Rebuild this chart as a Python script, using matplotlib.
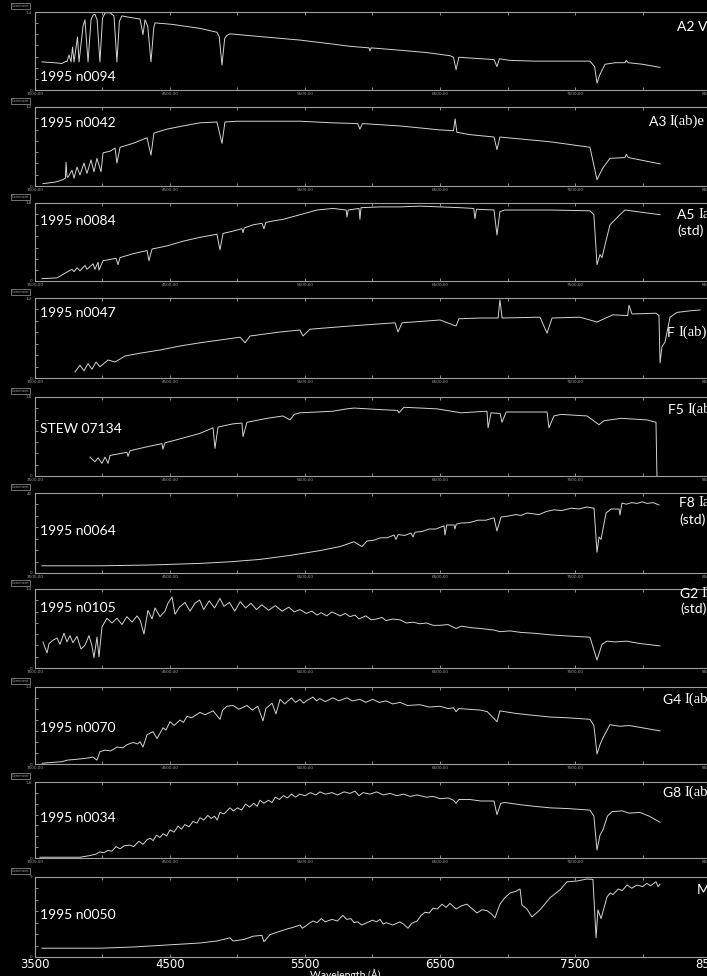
import numpy as np
import matplotlib.pyplot as plt
from matplotlib.ticker import FixedLocator, FuncFormatter

# spectra: (wavelength in Angstrom, flux as fraction of panel height)
a2v = [(3552, 0.36), (3640, 0.35), (3700, 0.34), (3730, 0.37), (3737, 0.36), (3752, 0.45), (3767, 0.36),
       (3778, 0.55), (3789, 0.36), (3815, 0.68), (3826, 0.36), (3856, 0.82), (3870, 0.90), (3893, 0.36),
       (3915, 0.90), (3930, 0.96), (3944, 0.97), (3960, 0.90), (3981, 0.36), (4000, 0.92), (4019, 0.99),
       (4056, 0.99), (4085, 0.95), (4107, 0.36), (4125, 0.88), (4144, 0.95), (4204, 0.93), (4278, 0.91),
       (4300, 0.71), (4315, 0.90), (4335, 0.82), (4359, 0.36), (4380, 0.80), (4389, 0.86), (4463, 0.85),
       (4522, 0.84), (4722, 0.79), (4848, 0.74), (4865, 0.68), (4885, 0.32), (4905, 0.66), (4922, 0.70),
       (4944, 0.72), (5200, 0.68), (5463, 0.64), (5700, 0.59), (5833, 0.56), (5975, 0.54), (5981, 0.50),
       (5990, 0.54), (6204, 0.51), (6400, 0.48), (6574, 0.44), (6600, 0.42), (6619, 0.26), (6640, 0.42),
       (6722, 0.41), (6900, 0.39), (6922, 0.30), (6940, 0.40), (7019, 0.38), (7200, 0.37), (7389, 0.37),
       (7611, 0.37), (7645, 0.30), (7663, 0.09), (7685, 0.20), (7722, 0.33), (7800, 0.35), (7870, 0.35),
       (7880, 0.38), (7895, 0.35), (8000, 0.33), (8130, 0.29)]

a3 = [(3559, 0.03), (3650, 0.05), (3707, 0.08), (3725, 0.10), (3730, 0.30), (3737, 0.12), (3744, 0.11),
      (3774, 0.20), (3789, 0.10), (3811, 0.24), (3833, 0.14), (3863, 0.29), (3885, 0.16), (3915, 0.33),
      (3937, 0.18), (3959, 0.35), (3989, 0.18), (4004, 0.42), (4056, 0.44), (4093, 0.48), (4107, 0.29),
      (4130, 0.49), (4226, 0.54), (4330, 0.61), (4359, 0.39), (4381, 0.67), (4478, 0.72), (4596, 0.76),
      (4722, 0.80), (4848, 0.81), (4885, 0.54), (4907, 0.81), (4996, 0.82), (5200, 0.82), (5463, 0.82),
      (5700, 0.80), (5890, 0.79), (5907, 0.72), (5925, 0.79), (6204, 0.76), (6500, 0.71), (6600, 0.70),
      (6612, 0.85), (6625, 0.68), (6722, 0.65), (6900, 0.62), (6922, 0.46), (6944, 0.62), (7315, 0.56),
      (7611, 0.49), (7663, 0.08), (7707, 0.23), (7759, 0.35), (7870, 0.36), (7880, 0.40), (7895, 0.36),
      (8130, 0.28)]

a5 = [(3552, 0.03), (3663, 0.04), (3722, 0.10), (3774, 0.15), (3789, 0.12), (3811, 0.17), (3833, 0.13),
      (3870, 0.20), (3885, 0.15), (3930, 0.22), (3944, 0.15), (3967, 0.24), (3974, 0.14), (4004, 0.26),
      (4100, 0.29), (4115, 0.21), (4130, 0.30), (4226, 0.35), (4330, 0.39), (4344, 0.26), (4367, 0.41),
      (4478, 0.45), (4596, 0.51), (4722, 0.56), (4848, 0.60), (4870, 0.40), (4893, 0.61), (4967, 0.64),
      (5033, 0.67), (5041, 0.62), (5050, 0.68), (5115, 0.72), (5181, 0.74), (5196, 0.67), (5210, 0.75),
      (5263, 0.77), (5337, 0.79), (5463, 0.85), (5589, 0.91), (5707, 0.93), (5805, 0.91), (5811, 0.82),
      (5820, 0.91), (5900, 0.93), (5907, 0.79), (5915, 0.94), (6056, 0.95), (6204, 0.95), (6352, 0.96),
      (6500, 0.95), (6648, 0.94), (6750, 0.93), (6759, 0.80), (6770, 0.92), (6900, 0.91), (6922, 0.59),
      (6944, 0.89), (6981, 0.91), (7315, 0.91), (7611, 0.90), (7640, 0.85), (7663, 0.21), (7685, 0.34),
      (7700, 0.30), (7722, 0.46), (7759, 0.72), (7833, 0.85), (7870, 0.91), (8000, 0.88), (8130, 0.85)]

f_iab = [(3796, 0.075), (3833, 0.16), (3863, 0.09), (3893, 0.18), (3922, 0.11), (3952, 0.20), (3981, 0.14),
         (4041, 0.225), (4093, 0.20), (4167, 0.275), (4278, 0.31), (4426, 0.35), (4574, 0.40), (4722, 0.44),
         (4870, 0.475), (5019, 0.51), (5056, 0.44), (5093, 0.525), (5315, 0.575), (5463, 0.60), (5485, 0.525),
         (5537, 0.61), (5833, 0.65), (6167, 0.69), (6189, 0.575), (6219, 0.69), (6500, 0.725), (6619, 0.65),
         (6640, 0.74), (6796, 0.75), (6930, 0.75), (6944, 0.975), (6960, 0.75), (7241, 0.76), (7293, 0.56),
         (7330, 0.75), (7537, 0.76), (7663, 0.70), (7781, 0.79), (7890, 0.78), (7900, 0.91), (7922, 0.80),
         (8100, 0.81), (8122, 0.78), (8130, 0.19), (8144, 0.39), (8167, 0.45), (8204, 0.76), (8256, 0.82),
         (8352, 0.84), (8426, 0.85)]

f5 = [(3907, 0.24), (3944, 0.18), (3967, 0.23), (3996, 0.16), (4019, 0.24), (4041, 0.16), (4056, 0.26),
      (4181, 0.30), (4189, 0.25), (4204, 0.32), (4330, 0.37), (4441, 0.41), (4448, 0.34), (4463, 0.42),
      (4596, 0.48), (4722, 0.54), (4819, 0.61), (4833, 0.35), (4856, 0.62), (4967, 0.66), (5033, 0.67),
      (5041, 0.50), (5070, 0.68), (5219, 0.73), (5337, 0.76), (5389, 0.71), (5420, 0.78), (5463, 0.80),
      (5589, 0.81), (5707, 0.82), (5811, 0.85), (5863, 0.86), (6063, 0.84), (6185, 0.83), (6196, 0.80),
      (6233, 0.87), (6478, 0.85), (6656, 0.80), (6848, 0.82), (6856, 0.61), (6878, 0.80), (6945, 0.79),
      (6959, 0.68), (6990, 0.81), (7293, 0.81), (7307, 0.61), (7344, 0.76), (7396, 0.78), (7589, 0.76),
      (7678, 0.65), (7715, 0.70), (7841, 0.73), (8033, 0.71), (8100, 0.68), (8107, 0.0)]

f8 = [(3552, 0.09), (3981, 0.09), (4352, 0.10), (4722, 0.12), (4944, 0.14), (5167, 0.17), (5389, 0.22),
      (5611, 0.28), (5759, 0.33), (5863, 0.39), (5922, 0.33), (5959, 0.40), (6010, 0.41), (6060, 0.44),
      (6110, 0.44), (6159, 0.475), (6174, 0.42), (6190, 0.48), (6240, 0.47), (6285, 0.50), (6300, 0.45),
      (6315, 0.51), (6370, 0.52), (6420, 0.55), (6470, 0.55), (6530, 0.59), (6537, 0.475), (6550, 0.60),
      (6604, 0.60), (6611, 0.55), (6620, 0.61), (6656, 0.625), (6720, 0.63), (6780, 0.66), (6840, 0.66),
      (6900, 0.69), (6922, 0.525), (6952, 0.70), (7000, 0.71), (7060, 0.73), (7100, 0.72), (7144, 0.75),
      (7190, 0.74), (7233, 0.73), (7290, 0.77), (7344, 0.79), (7400, 0.78), (7470, 0.81), (7530, 0.80),
      (7589, 0.825), (7641, 0.81), (7663, 0.26), (7678, 0.45), (7693, 0.42), (7730, 0.75), (7767, 0.80),
      (7826, 0.80), (7833, 0.725), (7848, 0.875), (7880, 0.86), (7920, 0.88), (7959, 0.87), (8000, 0.89),
      (8033, 0.87), (8080, 0.88), (8122, 0.85)]

g2 = [(3559, 0.33), (3589, 0.19), (3604, 0.31), (3633, 0.35), (3663, 0.38), (3685, 0.30), (3715, 0.44),
      (3737, 0.33), (3759, 0.41), (3781, 0.32), (3811, 0.40), (3841, 0.24), (3870, 0.29), (3900, 0.41),
      (3922, 0.28), (3937, 0.13), (3959, 0.39), (3974, 0.14), (3996, 0.52), (4033, 0.63), (4070, 0.57),
      (4107, 0.63), (4144, 0.55), (4181, 0.65), (4219, 0.58), (4256, 0.66), (4280, 0.60), (4307, 0.43),
      (4337, 0.73), (4367, 0.62), (4389, 0.76), (4426, 0.65), (4463, 0.72), (4485, 0.82), (4515, 0.90),
      (4537, 0.68), (4570, 0.77), (4611, 0.83), (4648, 0.72), (4685, 0.82), (4720, 0.86), (4750, 0.74),
      (4790, 0.85), (4830, 0.76), (4870, 0.88), (4900, 0.78), (4940, 0.83), (4980, 0.72), (5020, 0.84),
      (5060, 0.76), (5100, 0.82), (5140, 0.74), (5180, 0.80), (5230, 0.73), (5280, 0.79), (5330, 0.72),
      (5380, 0.77), (5420, 0.71), (5463, 0.74), (5510, 0.69), (5550, 0.72), (5590, 0.67), (5620, 0.70),
      (5660, 0.66), (5700, 0.71), (5760, 0.66), (5800, 0.69), (5833, 0.65), (5870, 0.67), (5900, 0.62),
      (5950, 0.66), (5990, 0.61), (6030, 0.62), (6070, 0.64), (6100, 0.60), (6150, 0.62), (6204, 0.61),
      (6250, 0.57), (6300, 0.58), (6350, 0.56), (6400, 0.57), (6450, 0.54), (6500, 0.54), (6560, 0.55),
      (6619, 0.50), (6660, 0.53), (6730, 0.51), (6800, 0.50), (6900, 0.48), (6944, 0.46), (7020, 0.47),
      (7100, 0.45), (7200, 0.44), (7315, 0.42), (7400, 0.41), (7500, 0.40), (7611, 0.39), (7663, 0.10),
      (7700, 0.30), (7737, 0.34), (7796, 0.33), (7880, 0.34), (7980, 0.31), (8130, 0.28)]

g4 = [(3552, 0.01), (3700, 0.03), (3737, 0.05), (3800, 0.06), (3856, 0.07), (3900, 0.08), (3930, 0.09),
      (3959, 0.05), (3981, 0.16), (4019, 0.18), (4060, 0.17), (4107, 0.22), (4150, 0.21), (4181, 0.25),
      (4226, 0.28), (4260, 0.26), (4278, 0.29), (4300, 0.22), (4330, 0.38), (4374, 0.42), (4404, 0.33),
      (4448, 0.47), (4470, 0.44), (4500, 0.55), (4530, 0.50), (4574, 0.57), (4600, 0.54), (4626, 0.62),
      (4660, 0.60), (4722, 0.67), (4760, 0.64), (4819, 0.69), (4870, 0.58), (4890, 0.70), (4922, 0.75),
      (4967, 0.76), (5010, 0.71), (5070, 0.76), (5110, 0.70), (5150, 0.75), (5189, 0.56), (5210, 0.72),
      (5256, 0.79), (5285, 0.65), (5315, 0.84), (5350, 0.78), (5400, 0.86), (5430, 0.80), (5463, 0.84),
      (5490, 0.79), (5510, 0.82), (5559, 0.87), (5585, 0.82), (5610, 0.85), (5650, 0.81), (5707, 0.86),
      (5750, 0.82), (5811, 0.86), (5850, 0.82), (5907, 0.84), (5950, 0.80), (6000, 0.84), (6050, 0.80),
      (6100, 0.82), (6150, 0.78), (6204, 0.80), (6260, 0.76), (6350, 0.77), (6420, 0.74), (6500, 0.75),
      (6560, 0.72), (6600, 0.73), (6619, 0.68), (6640, 0.72), (6720, 0.71), (6800, 0.70), (6850, 0.68),
      (6922, 0.55), (6944, 0.69), (7050, 0.66), (7150, 0.64), (7315, 0.61), (7450, 0.60), (7611, 0.58),
      (7640, 0.50), (7663, 0.13), (7685, 0.25), (7707, 0.34), (7759, 0.51), (7833, 0.49), (7900, 0.50),
      (8000, 0.47), (8130, 0.43)]

g8 = [(3537, 0.01), (3833, 0.01), (3900, 0.03), (3950, 0.05), (3981, 0.08), (4010, 0.07), (4040, 0.10),
      (4070, 0.09), (4100, 0.15), (4130, 0.12), (4160, 0.16), (4204, 0.17), (4230, 0.15), (4270, 0.22),
      (4300, 0.18), (4330, 0.24), (4352, 0.26), (4375, 0.23), (4400, 0.30), (4425, 0.27), (4450, 0.32),
      (4475, 0.29), (4500, 0.37), (4530, 0.34), (4560, 0.42), (4585, 0.38), (4610, 0.44), (4640, 0.41),
      (4670, 0.48), (4700, 0.46), (4722, 0.53), (4750, 0.50), (4780, 0.56), (4805, 0.52), (4830, 0.55),
      (4850, 0.50), (4870, 0.60), (4900, 0.58), (4944, 0.66), (4970, 0.62), (5000, 0.66), (5030, 0.63),
      (5060, 0.71), (5090, 0.67), (5120, 0.72), (5145, 0.68), (5167, 0.76), (5195, 0.72), (5230, 0.76),
      (5255, 0.73), (5280, 0.80), (5310, 0.77), (5340, 0.82), (5370, 0.79), (5400, 0.84), (5430, 0.80),
      (5460, 0.84), (5500, 0.82), (5540, 0.86), (5580, 0.83), (5611, 0.87), (5650, 0.84), (5700, 0.86),
      (5740, 0.83), (5790, 0.87), (5833, 0.85), (5870, 0.88), (5900, 0.82), (5930, 0.86), (5980, 0.84),
      (6030, 0.87), (6080, 0.83), (6130, 0.85), (6180, 0.82), (6230, 0.84), (6280, 0.81), (6330, 0.83),
      (6400, 0.80), (6450, 0.81), (6500, 0.78), (6560, 0.79), (6600, 0.76), (6619, 0.72), (6640, 0.77),
      (6722, 0.77), (6800, 0.75), (6900, 0.75), (6922, 0.57), (6950, 0.72), (6981, 0.73), (7100, 0.70),
      (7200, 0.68), (7315, 0.66), (7450, 0.65), (7611, 0.63), (7640, 0.55), (7663, 0.105), (7685, 0.30),
      (7707, 0.37), (7740, 0.55), (7774, 0.61), (7850, 0.62), (7900, 0.59), (7981, 0.60), (8050, 0.55),
      (8130, 0.47)]

m_star = [(3552, 0.11), (3981, 0.11), (4226, 0.125), (4478, 0.15), (4722, 0.175), (4848, 0.20), (4944, 0.24),
          (4967, 0.20), (5050, 0.22), (5115, 0.26), (5181, 0.27), (5196, 0.19), (5241, 0.28), (5293, 0.31),
          (5367, 0.35), (5411, 0.37), (5463, 0.40), (5480, 0.36), (5500, 0.38), (5530, 0.42), (5560, 0.45),
          (5590, 0.43), (5620, 0.48), (5650, 0.44), (5700, 0.47), (5740, 0.45), (5780, 0.52), (5810, 0.47),
          (5840, 0.48), (5863, 0.43), (5890, 0.44), (5920, 0.40), (5960, 0.43), (6000, 0.46), (6030, 0.44),
          (6056, 0.47), (6080, 0.41), (6100, 0.43), (6150, 0.40), (6204, 0.44), (6230, 0.41), (6263, 0.36),
          (6290, 0.42), (6330, 0.45), (6360, 0.52), (6389, 0.56), (6420, 0.55), (6448, 0.61), (6480, 0.60),
          (6515, 0.66), (6545, 0.62), (6574, 0.67), (6600, 0.63), (6620, 0.60), (6660, 0.64), (6700, 0.66),
          (6740, 0.60), (6774, 0.55), (6810, 0.59), (6848, 0.58), (6880, 0.54), (6907, 0.49), (6944, 0.66),
          (6980, 0.74), (7019, 0.80), (7060, 0.82), (7093, 0.85), (7107, 0.65), (7144, 0.60), (7181, 0.50),
          (7241, 0.59), (7315, 0.74), (7389, 0.84), (7441, 0.94), (7515, 0.95), (7589, 0.975), (7633, 0.97),
          (7656, 0.24), (7670, 0.59), (7693, 0.48), (7737, 0.75), (7760, 0.80), (7781, 0.78), (7820, 0.85),
          (7850, 0.83), (7885, 0.90), (7920, 0.86), (7960, 0.90), (8000, 0.88), (8033, 0.92), (8060, 0.89),
          (8100, 0.94), (8115, 0.88), (8130, 0.91)]

spectra = [a2v, a3, a5, f_iab, f5, f8, g2, g4, g8, m_star]
star_ids = ["1995 n0094", "1995 n0042", "1995 n0084", "1995 n0047", "STEW 07134",
            "1995 n0064", "1995 n0105", "1995 n0070", "1995 n0034", "1995 n0050"]
# spectral type: (sans part, serif part)
sp_class = [("A2 V", ""), ("A3 ", "I(ab)e"), ("A5 ", "Ia"), ("F ", "I(ab)"), ("F5 ", "I(ab)"),
            ("F8 ", "Ia"), ("G2 ", "Ib"), ("G4 ", "I(ab)"), ("G8 ", "I(ab)"), ("M", "")]
is_std = [False, False, True, False, False, True, True, False, False, False]
y_max = ["1,4", "1,2", "1,8", "1,2", "1,8", "40", "1,4", "1,4", "1,6", "9"]
x_ticks = [3500, 4500, 5500, 6500, 7500, 8500]

# layout (pixels)
tops = [12, 107, 203, 298, 397, 493, 589, 687, 782, 877]
bottoms = [90, 186, 281, 378, 476, 573, 668, 764, 858, 957]
id_y = [0.17, 0.80, 0.77, 0.81, 0.59, 0.52, 0.76, 0.47, 0.53, 0.53]
cls_x = [8256, 8048, 8256, 8181, 8189, 8270, 8278, 8152, 8152, 8403]
cls_y = [0.81, 0.81, 0.85, 0.56, 0.84, 0.875, 0.94, 0.83, 0.855, 0.84]
std_y = [0, 0, 0.64, 0, 0, 0.66, 0.75, 0, 0, 0]

W, H = 707, 976
fig = plt.figure(figsize=(W / 100, H / 100), dpi=100, facecolor='black')
grey = '#a0a0a0'

for i in range(10):
    t, b = tops[i], bottoms[i]
    ax = fig.add_axes([35 / W, 1 - b / H, 675 / W, (b - t) / H])
    ax.set_facecolor('black')
    wl, fl = np.array(spectra[i]).T
    ax.plot(wl, fl, color='#d4d4d4', lw=0.7)
    ax.set_xlim(3500, 8500)
    ax.set_ylim(0, 1)
    for s in ax.spines.values():
        s.set_color(grey)
        s.set_linewidth(0.8)

    ax.xaxis.set_major_locator(FixedLocator(x_ticks))
    ax.xaxis.set_minor_locator(FixedLocator([4000, 5000, 6000, 7000, 8000]))
    ax.yaxis.set_major_locator(FixedLocator(np.linspace(0, 1, 8)))
    ax.tick_params(which='both', direction='in', top=True, length=2, width=0.6, color=grey)
    ym = y_max[i]
    ax.yaxis.set_major_formatter(FuncFormatter(
        lambda v, p, ym=ym: '0' if v < 1e-6 else (ym if v > 0.999 else '')))
    ax.tick_params(axis='y', labelsize=3, labelcolor=grey, pad=2)
    if i < 9:
        ax.xaxis.set_major_formatter(FuncFormatter(lambda v, p: f"{int(v)},00"))
        ax.tick_params(axis='x', labelsize=3, labelcolor=grey, pad=1.5)
    else:
        ax.tick_params(axis='x', labelsize=8.5, labelcolor='white', pad=0.5)

    ax.text(3540, id_y[i], star_ids[i], color='white', fontsize=10, family='Lato', va='center')

    sans, serif = sp_class[i]
    t1 = ax.text(cls_x[i], cls_y[i], sans, color='white', fontsize=10, family='Lato', va='center')
    if serif:
        ax.annotate(serif, xy=(1, 0), xycoords=t1, va='bottom', ha='left', color='white',
                    fontsize=10.5, family='Liberation Serif')
    if is_std[i]:
        ax.text(cls_x[i], std_y[i], "(std)", color='white', fontsize=10, family='Lato', va='center')

    fig.text(12 / W, 1 - (t - 6) / H, "Comment", fontsize=2.5, color=grey, va='center',
             bbox=dict(boxstyle='square,pad=0.2', fc='black', ec=grey, lw=0.5))

fig.text(345 / W, 1 - 974.5 / H, "Wavelength (Å)", ha='center', va='center', fontsize=7.5,
         color='white', family='Lato')

fig.savefig('out.png', dpi=100, facecolor='black')
